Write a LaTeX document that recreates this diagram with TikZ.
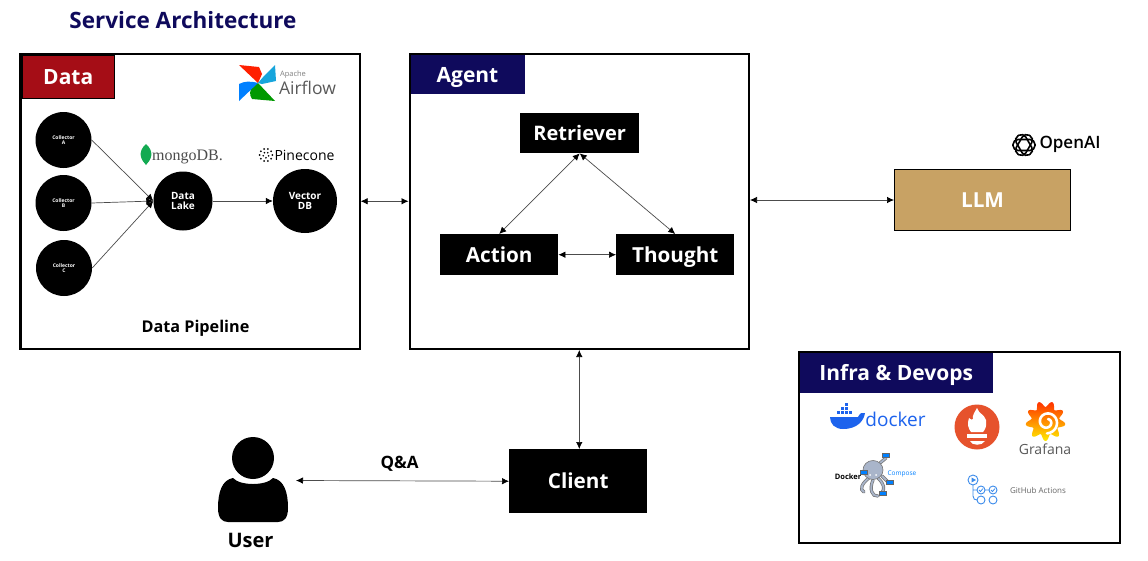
\documentclass[tikz,border=0pt]{standalone}
\usepackage{fontspec}
\setmainfont{Open Sans}
\newfontfamily\serifname{Liberation Serif}
\usetikzlibrary{arrows.meta}
\definecolor{navyhead}{HTML}{0F0A5C}
\definecolor{redhead}{HTML}{A50D16}
\definecolor{llmgold}{HTML}{C8A264}
\definecolor{dockblue}{HTML}{1D63ED}
\definecolor{gitblue}{HTML}{3B8BEB}
\definecolor{octogray}{HTML}{A9B5CA}
\definecolor{leafgreen}{HTML}{13AA52}
\definecolor{promorange}{HTML}{E6522C}
\newcommand{\txt}[1]{\fontsize{#1}{#1}\selectfont}
\tikzset{
  frame/.style={draw, line width=2.2pt, fill=white, inner sep=0pt, anchor=north west},
  headbox/.style={draw, line width=.8pt, text=white, font=\txt{21}\bfseries, inner sep=0pt, anchor=north west, text height=15pt, text depth=0pt},
  blackbox/.style={fill=black, text=white, font=\txt{20.7}\bfseries, inner sep=0pt, anchor=north west, text height=14.8pt, text depth=0pt},
  coll/.style={circle, fill=black, text=white, minimum size=56pt, inner sep=0pt, font=\txt{5}\bfseries, align=center},
  store/.style={circle, fill=black, text=white, inner sep=0pt, font=\txt{10}\bfseries, align=center},
  link/.style={draw=black!70, line width=.7pt, -{Latex[black,length=7pt,width=6.5pt]}},
  both/.style={draw=black!70, line width=.7pt, {Latex[black,length=7pt,width=6.5pt]}-{Latex[black,length=7pt,width=6.5pt]}},
  word/.style={inner sep=0pt},
}
\begin{document}
\begin{tikzpicture}[x=1pt,y=-1pt]
\useasboundingbox (0,0) rectangle (1148,560);
\fill[white] (0,0) rectangle (1148,560);
\node[word, text=navyhead, font=\txt{22.5}\bfseries] (title) at (183,20) {Service Architecture};
% frames
\node[frame, minimum width=339.2pt, minimum height=295.3pt] (dataframe) at (19.3,52.5) {};
\node[frame, minimum width=339.3pt, minimum height=294.8pt] (agentframe) at (408.5,53) {};
\node[frame, minimum width=320.5pt, minimum height=190.8pt] (infraframe) at (798,350.7) {};
\node[headbox, fill=redhead, minimum width=92.7pt, minimum height=42.7pt] (datahead) at (21.5,55) {Data};
\node[headbox, draw=navyhead, fill=navyhead, minimum width=113.2pt, minimum height=38.2pt] (agenthead) at (410.5,55) {Agent};
\node[headbox, draw=navyhead, fill=navyhead, minimum width=191.7pt, minimum height=38.7pt] (infrahead) at (800,353) {Infra \& Devops};
% data pipeline
\node[coll] (colA) at (63.5,140) {Collector\\A};
\node[coll] (colB) at (63.5,203) {Collector\\B};
\node[coll] (colC) at (64,268) {Collector\\C};
\node[store, minimum size=59pt] (lake) at (183,201) {Data\\Lake};
\node[store, minimum size=64pt] (vector) at (305,201) {Vector\\DB};
\node[word, font=\txt{16.2}\bfseries] (pipeline) at (195.5,328) {Data Pipeline};
\draw[link] (colA.east) -- (lake.west);
\draw[link] (colB.east) -- (lake.west);
\draw[link] (colC.east) -- (lake.west);
\draw[link] (lake) -- (vector);
% agent
\node[blackbox, minimum width=119pt, minimum height=40pt, font=\txt{20}\bfseries, text height=14.3pt] (retriever) at (520,113) {Retriever};
\node[blackbox, minimum width=118pt, minimum height=41pt] (action) at (440,234) {Action};
\node[blackbox, minimum width=118pt, minimum height=41pt] (thought) at (616,234) {Thought};
\draw[both] (retriever.south) -- (action.north);
\draw[both] (retriever.south) -- (thought.north);
\draw[both] (action) -- (thought);
% outside
\node[blackbox, draw=black, line width=.8pt, fill=llmgold, minimum width=176.2pt, minimum height=61.2pt] (llm) at (894,169) {LLM};
\node[blackbox, minimum width=138pt, minimum height=64pt] (client) at (509,449) {Client};
\coordinate (userend) at (296,480.5);
\draw[both] (dataframe.east) -- (dataframe.east -| agentframe.west);
\draw[both] (agentframe.east |- llm.west) -- (llm.west);
\draw[both] (agentframe.south) -- (client.north -| agentframe.south);
\draw[both] (userend) -- (client.west);
\node[word, font=\txt{17}\bfseries] (qa) at (399.5,464) {Q\&A};
% user
\fill (253,458) circle (21);
\fill (233,478) .. controls (240,486) and (266,486) .. (273,478)
  .. controls (284,480) and (288,492) .. (288,508)
  .. controls (288,518) and (284,522) .. (278,522) -- (228,522)
  .. controls (222,522) and (218,518) .. (218,508)
  .. controls (218,492) and (222,480) .. (233,478) -- cycle;
\node[word, font=\txt{20}\bfseries] (user) at (250.5,540) {User};
% airflow
\fill[red!75!orange] (239,65) -- (259,67) -- (262,74) -- (258,83) -- cycle;
\fill[cyan!80!teal] (275,65) -- (276,81) -- (262,84) -- (258,83) -- (264,76) -- cycle;
\fill[green!60!black] (275,101) -- (252,99) .. controls (249,95) and (250,90) .. (252,87) -- (258,83) -- cycle;
\fill[blue!50!cyan] (239,101) -- (239,84) .. controls (245,81) and (250,81) .. (258,83) -- cycle;
\node[word, text=black!50, font=\txt{7.5}] (apache) at (293,75) {Apache};
\node[word, text=black!65, font=\txt{17.5}] (airflow) at (307.5,88) {Airflow};
% mongodb
\fill[leafgreen] (146,144) .. controls (155,152) and (151,160) .. (146,165) .. controls (141,160) and (137,152) .. (146,144) -- cycle;
\node[word, text=black!70, font=\serifname\txt{16}] (mongo) at (187.5,157) {mongoDB.};
% pinecone
\foreach \a in {0,36,...,324}
  \fill (266,155) ++(\a:6.3) circle (1);
\foreach \a in {20,92,...,308}
  \fill (266,155) ++(\a:2.8) circle (.9);
\node[word, font=\txt{14}] (pinecone) at (304.5,155) {Pinecone};
% openai
\foreach \a in {0,60,120}
  \draw[line width=1.6pt, rounded corners=5pt, rotate around={\a:(1024,145)}] (1013,139.5) rectangle (1035,150.5);
\node[word, font=\txt{17}\fontspec{Open Sans Semibold}] (openai) at (1070,144) {OpenAI};
% docker
\fill[dockblue] (830,417) -- (858,417) .. controls (860,413) and (862,412) .. (865,413)
  .. controls (864,420) and (858,429) .. (843,429) .. controls (835,429) and (830,424) .. (830,417) -- cycle;
\foreach \x/\y in {837/411,841/411,845/411,849/411,841/407,845/407,845/403}
  \fill[dockblue] (\x,\y) rectangle ++(3.4,3.4);
\node[word, text=dockblue, font=\txt{19}] (docker) at (895.5,419) {docker};
% prometheus
\fill[promorange] (977,427) circle (22.5);
\fill[white] (977,408) .. controls (979,414) and (984,414) .. (986,420) .. controls (987,426) and (985,430) .. (983,432) -- (971,432)
  .. controls (968,428) and (967,424) .. (969,418) .. controls (971,420) and (972,420) .. (973,419) .. controls (972,415) and (975,412) .. (977,408) -- cycle;
\fill[white] (967,434) rectangle (987,438);
\fill[white] (970,441) .. controls (972,446) and (982,446) .. (985,441) -- cycle;
% grafana
\shade[top color=orange!40!red, bottom color=yellow!85!orange] plot[domain=0:357,samples=120] ({1045.5+(17+3*sin(9*\x))*cos(\x)},{421+(17+3*sin(9*\x))*sin(\x)}) -- cycle;
\draw[white, line width=2.6pt, line cap=round] plot[domain=0:520,samples=60,smooth] ({1047+(3+\x/62)*cos(\x-70)},{422+(3+\x/62)*sin(\x-70)});
\node[word, text=black!65, font=\txt{14}] (grafana) at (1045,449) {Grafana};
% docker compose
\foreach \c/\w in {black!55/3.2,octogray/1.8} {
  \draw[\c, line width=\w pt, line cap=round] (868,470) -- (864,474);
  \draw[\c, line width=\w pt, line cap=round] (880,463) -- (886,458);
  \draw[\c, line width=\w pt, line cap=round] (882,476) -- (889,483);
  \draw[\c, line width=\w pt, line cap=round] (878,478) .. controls (884,484) and (885,488) .. (882,493);
  \draw[\c, line width=\w pt, line cap=round] (869,478) .. controls (862,483) and (859,490) .. (864,492);
  \draw[\c, line width=\w pt, line cap=round] (873,480) .. controls (869,489) and (872,497) .. (878,496);
}
\filldraw[fill=octogray, draw=black!55, line width=.6pt] (873,470) ellipse (10 and 9.5);
\fill[white] (870,475) circle (1) (876,475) circle (1);
\foreach \x/\y in {882/453,860/470,886/480,879/491}
  \fill[blue!50!cyan, draw=black!60, line width=.3pt] (\x,\y) rectangle ++(7,4.5);
\node[word, font=\txt{7.5}\bfseries] (dcname) at (848,477) {Docker};
\node[word, text=blue!50!cyan, font=\txt{6.5}] (dcomp) at (902,474) {Compose};
% github actions
\draw[gitblue, line width=.9pt] (973,480) circle (5) (981,490) circle (4) (993,490) circle (4) (981,500) circle (4) (993,500) circle (4);
\fill[gitblue] (971.5,477.5) -- (976,480) -- (971.5,482.5) -- cycle;
\draw[gitblue, line width=.9pt] (973,485) -- (973,496) .. controls (973,499) and (975,500) .. (977,500) (973,490) -- (977,490) (985,490) -- (989,490);
\draw[gitblue, line width=.8pt] (979,490) -- (980.5,491.5) -- (983,488.5) (991,490) -- (992.5,491.5) -- (995,488.5);
\node[word, text=black!60, font=\txt{8}] (ghactions) at (1038,490) {GitHub Actions};
\end{tikzpicture}
\end{document}
